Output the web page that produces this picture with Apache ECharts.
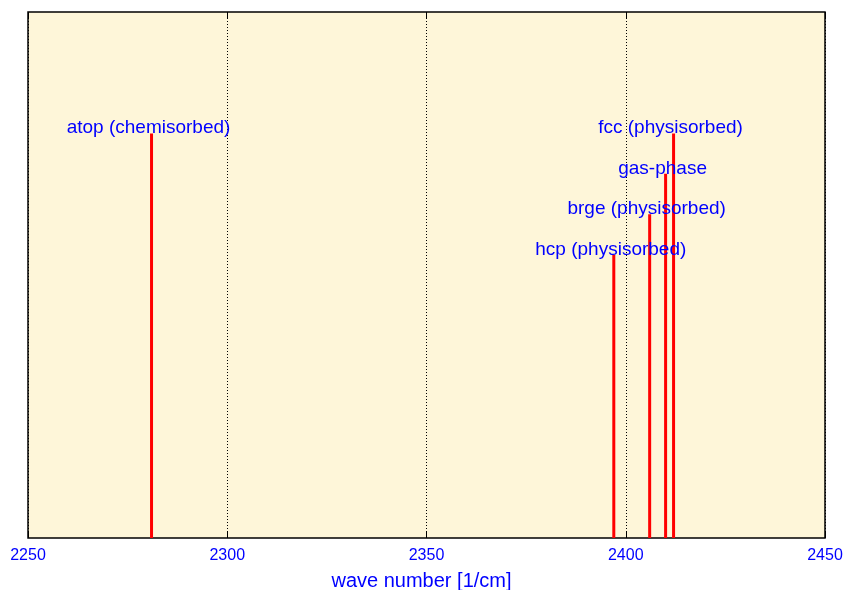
<!DOCTYPE html>
<html>
<head>
<meta charset="utf-8">
<script src="https://cdn.jsdelivr.net/npm/echarts@6/dist/echarts.min.js"></script>
<style>html,body{margin:0;padding:0;background:#fff;}#c{width:844px;height:590px;}</style>
</head>
<body>
<div id="c"></div>
<script>
const positions = [2281, 2397, 2406, 2410, 2412];
const intensities = [1.0, 0.7, 0.8, 0.9, 1.0];
const siteLabels = ['atop (chemisorbed)', 'hcp (physisorbed)', 'brge (physisorbed)', 'gas-phase', 'fcc (physisorbed)'];
const xMin = 2250, xMax = 2450, xStep = 50;
const yMax = 1.3;
const xTitle = 'wave number [1/cm]';

const chart = echarts.init(document.getElementById('c'));
const font = 'Liberation Sans, Arial, Helvetica, sans-serif';
const data = positions.map((p, i) => ({ value: [p, intensities[i]], name: siteLabels[i] }));

chart.setOption({
  animation: false,
  backgroundColor: '#ffffff',
  grid: {
    left: 28, right: 19, top: 12, bottom: 52,
    containLabel: false, outerBoundsMode: 'none',
    show: true, backgroundColor: '#fef6d9', borderColor: '#000', borderWidth: 1.5
  },
  xAxis: [{
    type: 'value', min: xMin, max: xMax, interval: xStep, position: 'bottom',
    axisLine: { show: false },
    axisTick: { show: true, inside: true, length: 7, lineStyle: { color: '#000', width: 1 } },
    axisLabel: { color: '#0000ff', fontSize: 16, fontFamily: font, margin: 10, formatter: v => String(v) },
    splitLine: { show: true, lineStyle: { color: '#000', type: [1, 2], width: 1 } },
    name: xTitle, nameLocation: 'middle', nameGap: 33,
    nameTextStyle: { color: '#0000ff', fontSize: 20, fontFamily: font, padding: [0, 10, 0, 0] }
  }, {
    type: 'value', min: xMin, max: xMax, interval: xStep, position: 'top',
    axisLine: { show: false },
    axisTick: { show: true, inside: true, length: 7, lineStyle: { color: '#000', width: 1 } },
    axisLabel: { show: false },
    splitLine: { show: false }
  }],
  yAxis: {
    type: 'value', min: 0, max: yMax,
    show: true,
    axisLine: { show: false }, axisTick: { show: false }, axisLabel: { show: false },
    splitLine: { show: false }
  },
  series: [{
    type: 'bar',
    xAxisIndex: 0,
    barWidth: 3,
    itemStyle: { color: '#ff0000' },
    label: {
      show: true, position: 'top', distance: -4, offset: [-3, 0],
      formatter: p => p.name,
      color: '#0000ff', fontSize: 19, fontFamily: font
    },
    data: data
  }]
});
</script>
</body>
</html>
